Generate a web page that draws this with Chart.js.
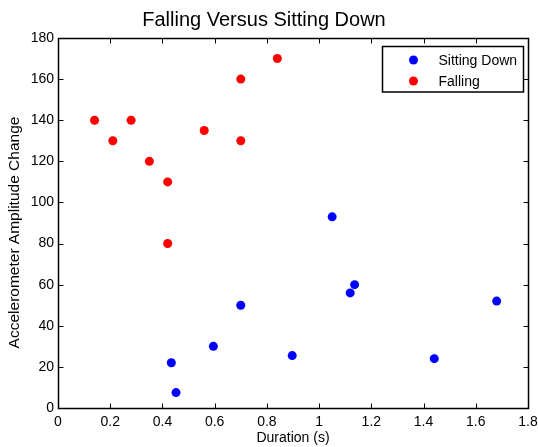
<!DOCTYPE html>
<html>
<head>
<meta charset="utf-8">
<script src="https://cdn.jsdelivr.net/npm/chart.js@4"></script>
<style>
  html, body { margin: 0; padding: 0; background: #fff; }
  canvas { display: block; }
</style>
</head>
<body>
<canvas id="fallChart" width="538" height="447"></canvas>
<script>
const seriesNames = ["Sitting Down", "Falling"];
const seriesColors = ["#0000ff", "#ff0000"];

const sittingX = [0.434, 0.452, 0.595, 0.70, 0.897, 1.05, 1.119, 1.136, 1.441, 1.68];
const sittingY = [22, 7.5, 30, 50, 25.5, 93, 56, 60, 24, 52];

const fallingX = [0.14, 0.21, 0.28, 0.35, 0.42, 0.42, 0.56, 0.70, 0.70, 0.84];
const fallingY = [140, 130, 140, 120, 110, 80, 135, 160, 130, 170];

const xTicks = [0, 0.2, 0.4, 0.6, 0.8, 1, 1.2, 1.4, 1.6, 1.8];
const yTicks = [0, 20, 40, 60, 80, 100, 120, 140, 160, 180];

const FONT = '"Liberation Sans", Arial, Helvetica, sans-serif';

const toPoints = (xs, ys) => xs.map((x, i) => ({ x: x, y: ys[i] }));

// MATLAB style box: frame, inward ticks on all sides, boxed legend, y title
const matlabBox = {
  id: "matlabBox",
  afterDraw(chart) {
    const { ctx, chartArea: a, scales } = chart;
    const L = Math.round(a.left) + 0.5, R = Math.round(a.right) + 0.5;
    const T = Math.round(a.top) + 0.5, B = Math.round(a.bottom) + 0.5;
    const tick = 5;
    ctx.save();
    ctx.strokeStyle = "#000";
    ctx.lineWidth = 1;
    ctx.beginPath();
    xTicks.forEach((v) => {
      const px = Math.round(scales.x.getPixelForValue(v)) + 0.5;
      ctx.moveTo(px, B); ctx.lineTo(px, B - tick);
      ctx.moveTo(px, T); ctx.lineTo(px, T + tick);
    });
    yTicks.forEach((v) => {
      const py = Math.round(scales.y.getPixelForValue(v)) + 0.5;
      ctx.moveTo(L, py); ctx.lineTo(L + tick, py);
      ctx.moveTo(R, py); ctx.lineTo(R - tick, py);
    });
    ctx.stroke();
    ctx.lineWidth = 1.5;
    ctx.strokeRect(L, T, R - L, B - T);

    // legend
    const lx = 382.5, ly = 46.5, lw = 141, lh = 45.5;
    ctx.fillStyle = "#fff";
    ctx.fillRect(lx, ly, lw, lh);
    ctx.strokeRect(lx, ly, lw, lh);
    ctx.font = "14px " + FONT;
    ctx.textBaseline = "middle";
    ctx.textAlign = "left";
    chart.data.datasets.forEach((ds, i) => {
      const cy = 60 + i * 21;
      ctx.fillStyle = ds.backgroundColor;
      ctx.beginPath();
      ctx.arc(413.5, cy, 4.5, 0, Math.PI * 2);
      ctx.fill();
      ctx.fillStyle = "#000";
      ctx.fillText(ds.label, 438.5, cy + 1);
    });

    // y axis title
    ctx.translate(15, 232.5);
    ctx.rotate(-Math.PI / 2);
    ctx.textAlign = "center";
    ctx.font = "15.5px " + FONT;
    ctx.fillText("Accelerometer Amplitude Change", 0, 0);
    ctx.restore();
  }
};

new Chart(document.getElementById("fallChart"), {
  type: "scatter",
  data: {
    datasets: [
      {
        label: seriesNames[0],
        data: toPoints(sittingX, sittingY),
        backgroundColor: seriesColors[0],
        borderColor: seriesColors[0],
        pointRadius: 4.5,
        pointBorderWidth: 0
      },
      {
        label: seriesNames[1],
        data: toPoints(fallingX, fallingY),
        backgroundColor: seriesColors[1],
        borderColor: seriesColors[1],
        pointRadius: 4.5,
        pointBorderWidth: 0
      }
    ]
  },
  options: {
    responsive: false,
    animation: false,
    devicePixelRatio: 1,
    layout: { padding: { left: 0, right: 10, top: 0, bottom: 0 } },
    plugins: {
      legend: { display: false },
      tooltip: { enabled: false },
      title: {
        display: true,
        text: "Falling Versus Sitting Down",
        color: "#000",
        font: { family: FONT, size: 20, weight: "normal" },
        padding: { top: 8, bottom: 6 }
      }
    },
    scales: {
      x: {
        type: "linear",
        min: 0,
        max: 1.8,
        grid: { display: false, drawTicks: false, tickLength: 0 },
        border: { display: false },
        afterBuildTicks: (s) => { s.ticks = xTicks.map((v) => ({ value: v })); },
        afterFit: (s) => { s.height = 39; s.paddingLeft = 0; s.paddingRight = 0; },
        ticks: {
          color: "#000",
          padding: 6,
          maxRotation: 0,
          autoSkip: false,
          font: { family: FONT, size: 14 },
          callback: (v) => String(v)
        },
        title: {
          display: true,
          text: "Duration (s)",
          color: "#000",
          padding: { top: 0, bottom: 0 },
          font: { family: FONT, size: 14 }
        }
      },
      y: {
        type: "linear",
        min: 0,
        max: 180,
        grid: { display: false, drawTicks: false, tickLength: 0 },
        border: { display: false },
        afterBuildTicks: (s) => { s.ticks = yTicks.map((v) => ({ value: v })); },
        afterFit: (s) => { s.width = 58; s.paddingTop = 0; s.paddingBottom = 0; },
        ticks: {
          color: "#000",
          padding: 4,
          autoSkip: false,
          font: { family: FONT, size: 14 },
          callback: (v) => String(v)
        }
      }
    }
  },
  plugins: [matlabBox]
});
</script>
</body>
</html>
